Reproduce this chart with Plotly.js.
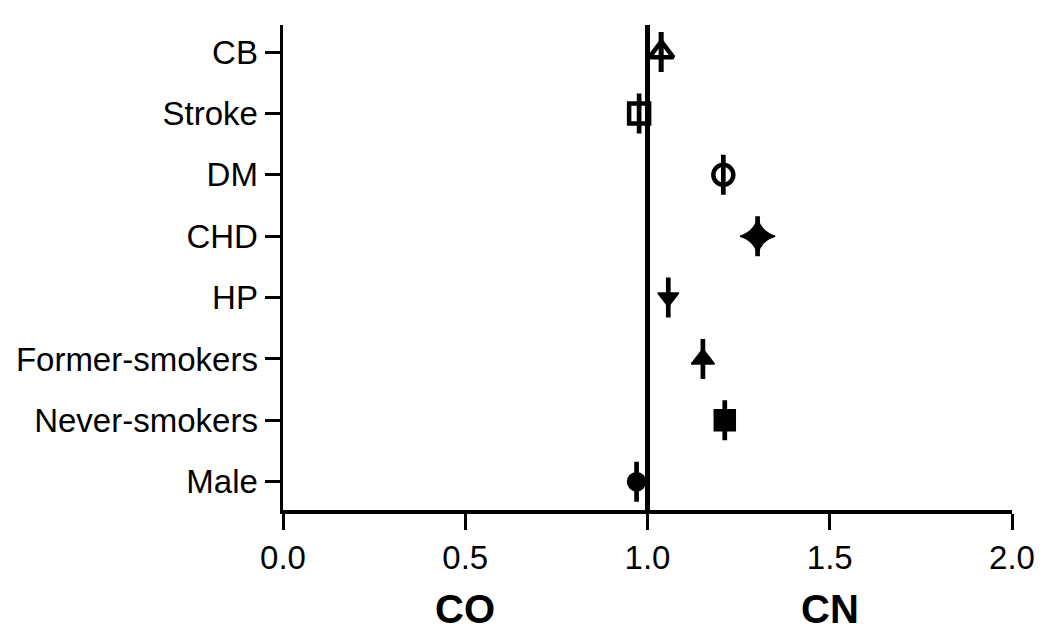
<!DOCTYPE html>
<html>
<head>
<meta charset="utf-8">
<script src="https://cdn.plot.ly/plotly-3.0.1.min.js"></script>
<style>html,body{margin:0;padding:0;background:#fff;}#chart{width:1043px;height:630px;}</style>
</head>
<body>
<div id="chart"></div>
<script>
// Data (bottom to top)
const categories = ['Male', 'Never-smokers', 'Former-smokers', 'HP', 'CHD', 'DM', 'Stroke', 'CB'];
const ratio  = [0.970, 1.212, 1.152, 1.057, 1.302, 1.208, 0.977, 1.038];
const ciLow  = [0.967, 1.209, 1.149, 1.054, 1.299, 1.205, 0.974, 1.034];
const ciHigh = [0.973, 1.215, 1.155, 1.060, 1.305, 1.211, 0.980, 1.041];
const xTickValues = [0, 0.5, 1.0, 1.5, 2.0];
const xTickLabels = ['0.0', '0.5', '1.0', '1.5', '2.0'];
const sideLabels = [{x: 0.5, text: 'CO'}, {x: 1.5, text: 'CN'}];

// Styles
const symbols = ['circle', 'square', 'triangle-up', 'triangle-down', 'star-diamond', 'circle-open', 'square-open', 'triangle-up-open'];
const sizes   = [18, 21, 20, 18, 25, 20, 20, 21];
const lineW   = [1.5, 1.5, 1.5, 1.5, 1.5, 4.5, 4.5, 4.5];

const trace = {
  type: 'scatter',
  mode: 'markers',
  x: ratio,
  y: categories,
  error_x: {
    type: 'data',
    symmetric: false,
    array: ratio.map((v, i) => ciHigh[i] - v),
    arrayminus: ratio.map((v, i) => v - ciLow[i]),
    color: '#000',
    thickness: 2.5,
    width: 20
  },
  marker: {
    symbol: symbols,
    size: sizes,
    color: '#000',
    opacity: 1,
    line: {color: '#000', width: lineW}
  },
  cliponaxis: false,
  hoverinfo: 'x+y',
  showlegend: false
};

const layout = {
  width: 1043,
  height: 630,
  margin: {l: 283, r: 31, t: 25, b: 120},
  paper_bgcolor: '#fff',
  plot_bgcolor: '#fff',
  font: {family: '"Liberation Sans", Arial, sans-serif', color: '#000', size: 33},
  xaxis: {
    range: [0, 2],
    tickvals: xTickValues,
    ticktext: xTickLabels,
    ticks: 'outside',
    ticklen: 16,
    tickwidth: 3,
    tickcolor: '#000',
    showline: true,
    linewidth: 3.5,
    linecolor: '#000',
    showgrid: false,
    zeroline: false,
    tickfont: {size: 33},
    fixedrange: true
  },
  yaxis: {
    type: 'category',
    categoryorder: 'array',
    categoryarray: categories,
    range: [-0.46, 7.44],
    ticks: 'outside',
    ticklen: 15,
    tickwidth: 3,
    tickcolor: '#000',
    ticklabelstandoff: 0,
    showline: true,
    linewidth: 3.5,
    linecolor: '#000',
    showgrid: false,
    zeroline: false,
    tickfont: {size: 33},
    fixedrange: true
  },
  shapes: [{
    type: 'line',
    xref: 'x', yref: 'paper',
    x0: 1, x1: 1, y0: 0, y1: 1,
    line: {color: '#000', width: 5},
    layer: 'above'
  }],
  annotations: sideLabels.map(s => ({
    x: s.x, xref: 'x',
    y: -0.205, yref: 'paper',
    yanchor: 'middle', xanchor: 'center',
    showarrow: false,
    text: '<b>' + s.text + '</b>',
    font: {size: 40, family: '"Liberation Sans", Arial, sans-serif', color: '#000'}
  }))
};

Plotly.newPlot('chart', [trace], layout, {displayModeBar: false, staticPlot: true});
</script>
</body>
</html>
